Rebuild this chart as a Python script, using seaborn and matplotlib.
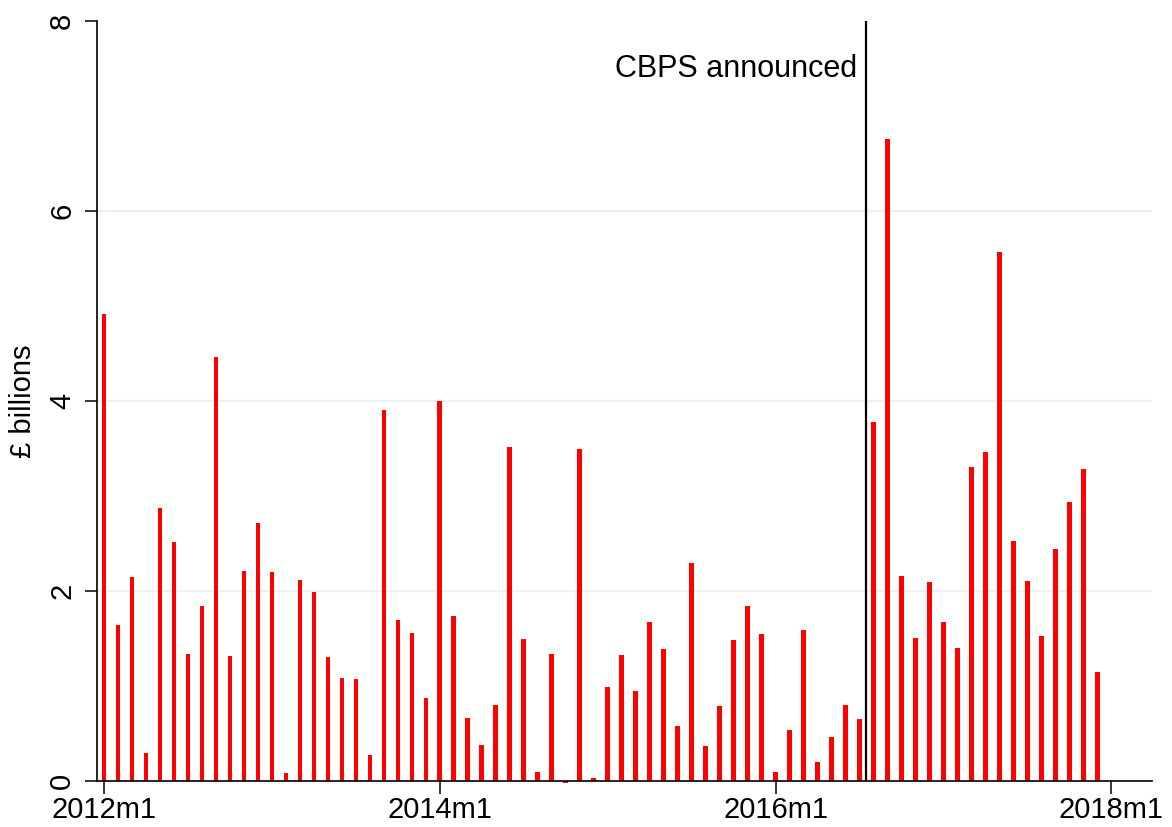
import matplotlib
matplotlib.use("Agg")
import matplotlib.pyplot as plt
import seaborn as sns
import numpy as np
import pandas as pd

# Monthly values, 2012m1 .. 2017m12 (£ billions)
values_2012 = [4.92, 1.64, 2.15, 0.30, 2.87, 2.52, 1.34, 1.84, 4.46, 1.32, 2.21, 2.72]
values_2013 = [2.20, 0.08, 2.12, 1.99, 1.31, 1.08, 1.07, 0.27, 3.91, 1.69, 1.56, 0.87]
values_2014 = [4.00, 1.74, 0.66, 0.38, 0.80, 3.52, 1.49, 0.10, 1.34, -0.02, 3.50, 0.03]
values_2015 = [0.99, 1.33, 0.95, 1.67, 1.39, 0.58, 2.29, 0.37, 0.79, 1.48, 1.84, 1.55]
values_2016 = [0.10, 0.54, 1.59, 0.20, 0.46, 0.80, 0.65, 3.78, 6.76, 2.16, 1.51, 2.09]
values_2017 = [1.67, 1.40, 3.31, 3.46, 5.57, 2.53, 2.11, 1.53, 2.44, 2.94, 3.28, 1.15]

years = [2012, 2013, 2014, 2015, 2016, 2017]
tick_labels = ["2012m1", "2014m1", "2016m1", "2018m1"]
event_label = "CBPS announced"
event_month = 54.45  # months after 2012m1 (between 2016m7 and 2016m8)

values = values_2012 + values_2013 + values_2014 + values_2015 + values_2016 + values_2017
month_index = list(range(len(values)))
df = pd.DataFrame({"month": month_index, "value": values})

sns.set_style("white")
plt.rcParams['font.family'] = ['Liberation Sans', 'DejaVu Sans']
plt.rcParams['text.color'] = 'black'
plt.rcParams['axes.labelcolor'] = 'black'
plt.rcParams['xtick.color'] = 'black'
plt.rcParams['ytick.color'] = 'black'

fig = plt.figure(figsize=(11.72, 8.27), dpi=100)
ax = fig.add_axes([97/1172, 46/827, (1152-97)/1172, (781-21)/827])

for gy in [2, 4, 6]:
    ax.axhline(gy, color="#EAF2F3", lw=1.6, zorder=0)

sns.barplot(data=df, x="month", y="value", native_scale=True, width=0.33,
            color="#FF0000", saturation=1, edgecolor="none", ax=ax, zorder=2)
for p in ax.patches:
    p.set_clip_on(False)

ax.axvline(event_month, color="black", lw=1.6, zorder=3)
ax.text(event_month - 0.6, 7.49, event_label, ha="right", va="center",
        fontsize=22, color="black")

ax.set_xlim(-0.5, 74.9)
ax.set_ylim(0, 8)
ax.set_xticks([0, 24, 48, 72])
ax.set_xticklabels(tick_labels)
ax.set_yticks([0, 2, 4, 6, 8])
ax.set_yticklabels(["0", "2", "4", "6", "8"], rotation=90, va="center")
ax.tick_params(axis="both", direction="out", length=9, width=1.1, color="black",
               labelsize=21, left=True, bottom=True, labelcolor="black")
ax.tick_params(axis="x", pad=2)
ax.tick_params(axis="y", pad=6)
ax.set_xlabel("")
ax.set_ylabel("£ billions", fontsize=21, labelpad=8, color="black")

for s in ["top", "right"]:
    ax.spines[s].set_visible(False)
for s in ["left", "bottom"]:
    ax.spines[s].set_color("black")
    ax.spines[s].set_linewidth(1.2)

fig.savefig("out.png", dpi=100)
